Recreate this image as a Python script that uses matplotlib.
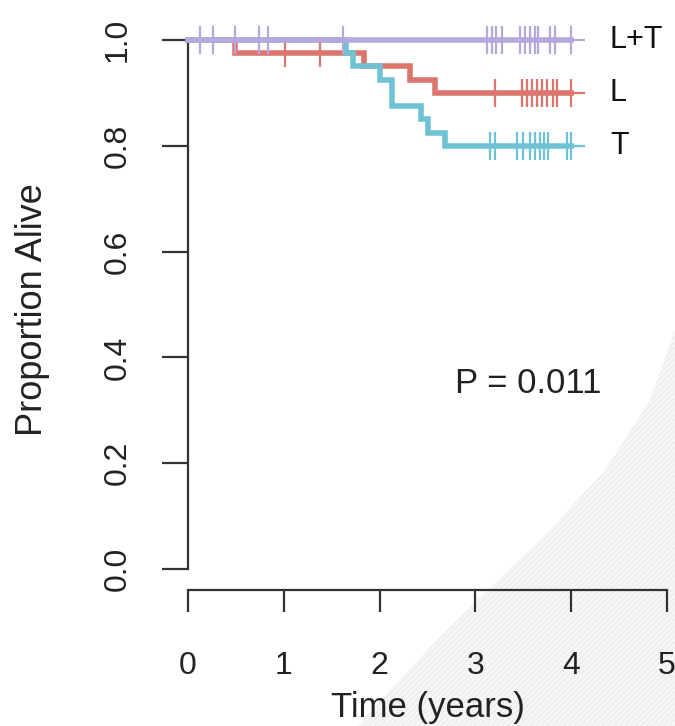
import numpy as np
import matplotlib
matplotlib.use("Agg")
import matplotlib.pyplot as plt
from matplotlib.patches import PathPatch
from matplotlib.path import Path

plt.rcParams['font.family'] = ['Liberation Sans', 'DejaVu Sans']
plt.rcParams['hatch.linewidth'] = 0.6

# Kaplan-Meier step curves: time of each step and survival after it
lt_times = [0.0, 4.0]
lt_surv = [1.0, 1.0]
l_times = [0.0, 0.49, 1.84, 2.32, 2.58, 4.0]
l_surv = [1.0, 0.975, 0.95, 0.925, 0.9, 0.9]
t_times = [0.0, 1.65, 1.72, 2.0, 2.13, 2.43, 2.5, 2.68, 4.0]
t_surv = [1.0, 0.975, 0.95, 0.925, 0.875, 0.85, 0.825, 0.8, 0.8]

# censoring times
lt_censor = [0.13, 0.26, 0.49, 0.74, 0.84, 1.62, 3.12, 3.17, 3.22, 3.28,
             3.47, 3.52, 3.57, 3.62, 3.65, 3.78, 3.83, 4.0]
l_censor = [1.01, 1.38, 3.2, 3.49, 3.54, 3.59, 3.64, 3.69, 3.75, 3.81,
            3.85, 4.0]
t_censor = [3.15, 3.2, 3.43, 3.5, 3.57, 3.62, 3.67, 3.72, 3.76, 3.96, 4.0]

group_names = ['L', 'T', 'L+T']
group_colors = ['#DC756C', '#6FC2D3', '#B6A8DA']
p_text = 'P = 0.011'

x_ticks = [0, 1, 2, 3, 4, 5]
y_ticks = [0.0, 0.2, 0.4, 0.6, 0.8, 1.0]

W, H = 675, 726
fig = plt.figure(figsize=(W / 100, H / 100), dpi=100)

# faint curved shading in the lower right corner
pts = [(675, 330), (650, 400), (605, 470), (550, 530), (490, 588),
       (440, 637), (392, 688), (358, 726), (675, 726), (675, 330)]
verts = [(x / W, 1 - y / H) for x, y in pts]
codes = [Path.MOVETO] + [Path.LINETO] * (len(verts) - 2) + [Path.CLOSEPOLY]
shade = PathPatch(Path(verts, codes), transform=fig.transFigure,
                  facecolor='#f6f6f6', edgecolor='#e8e8e8', hatch='//////',
                  linewidth=0, zorder=-5)
fig.patches.append(shade)

ax = fig.add_axes([188 / W, 1 - 569 / H, 479 / W, 529 / H])
ax.set_facecolor('none')
ax.set_xlim(0, 5)
ax.set_ylim(0, 1)


def surv_at(times, surv, tc):
    idx = np.searchsorted(times, tc, side='right') - 1
    return np.asarray(surv)[idx]


curves = [(l_times, l_surv, l_censor), (t_times, t_surv, t_censor),
          (lt_times, lt_surv, lt_censor)]
for (tt, ss, cc), col in zip(curves, group_colors):
    ax.step(tt, ss, where='post', color=col, lw=4, solid_joinstyle='miter',
            clip_on=False, zorder=3)
    ax.plot(cc, surv_at(tt, ss, cc), ls='none', marker='+', ms=20, mew=1.6,
            color=col, clip_on=False, zorder=3)

for (tt, ss, cc), name in zip(curves, group_names):
    ax.text(4.405, ss[-1], name, fontsize=22, color='#111111',
            ha='left', va='center', clip_on=False)

ax.text(3.55, 0.35, p_text, fontsize=25, color='#222222',
        ha='center', va='center')

for side in ['top', 'right']:
    ax.spines[side].set_visible(False)
ax.spines['left'].set_bounds(0, 1)
ax.spines['bottom'].set_bounds(0, 5)
ax.spines['bottom'].set_position(('outward', 15))
for side in ['left', 'bottom']:
    ax.spines[side].set_linewidth(1.6)
    ax.spines[side].set_color('#333333')

ax.set_xticks(x_ticks)
ax.set_xticklabels([str(v) for v in x_ticks])
ax.set_yticks(y_ticks)
ax.set_yticklabels([f'{v:.1f}' for v in y_ticks])
ax.tick_params(axis='x', length=16, width=1.6, color='#333333', pad=28,
               labelsize=23, labelcolor='#222222')
ax.tick_params(axis='y', length=18.7, width=1.6, color='#333333', pad=21,
               labelsize=23, labelcolor='#222222', labelrotation=90)
for lab in ax.get_yticklabels():
    lab.set_va('center')

ax.set_xlabel('Time (years)', fontsize=25, color='#222222')
ax.xaxis.set_label_coords(0.5, -0.261)
ax.xaxis.label.set_va('center')
ax.set_ylabel('Proportion Alive', fontsize=26, color='#222222')
ax.yaxis.set_label_coords(-0.3236, 0.49)
ax.yaxis.label.set_va('center')

fig.savefig('out.png', dpi=100)
